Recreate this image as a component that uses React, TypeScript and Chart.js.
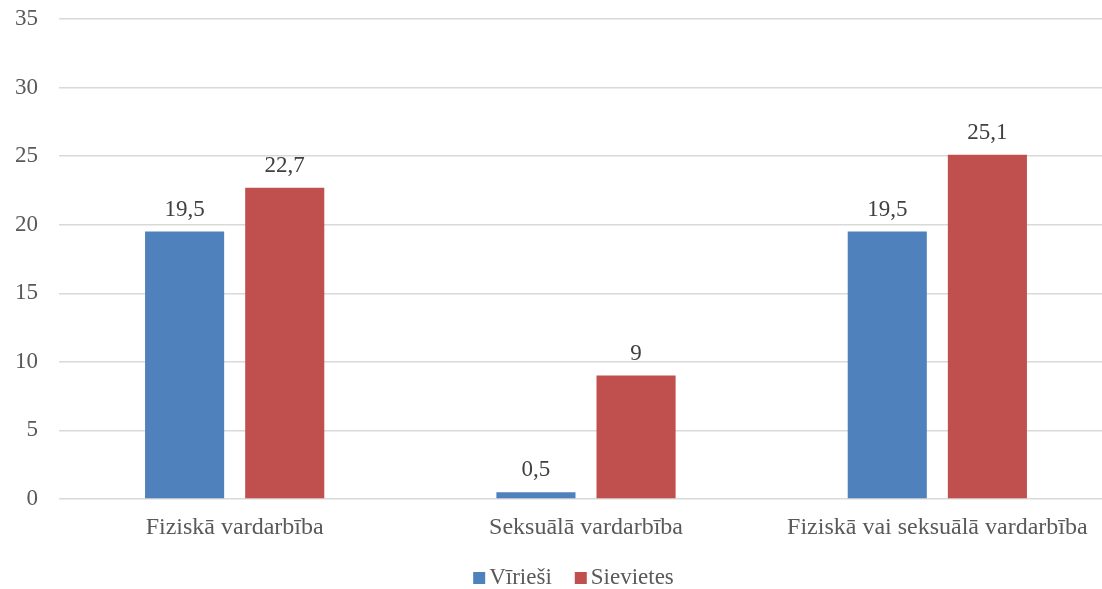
import React, { useEffect, useRef } from "react";
import { Chart, registerables } from "chart.js";

Chart.register(...registerables);

const categories = ["Fiziskā vardarbība", "Seksuālā vardarbība", "Fiziskā vai seksuālā vardarbība"];
const seriesNames = ["Vīrieši", "Sievietes"];
const men = [19.5, 0.5, 19.5];
const women = [22.7, 9, 25.1];
const yTicks = [0, 5, 10, 15, 20, 25, 30, 35];

const FONT = "'Liberation Serif', 'Times New Roman', serif";

const labelPlugin = {
  id: "valueLabels",
  afterDatasetsDraw(chart: any) {
    const ctx = chart.ctx;
    ctx.save();
    ctx.font = `23px ${FONT}`;
    ctx.fillStyle = "#404040";
    ctx.textAlign = "center";
    ctx.textBaseline = "alphabetic";
    chart.data.datasets.forEach((ds: any, di: number) => {
      const meta = chart.getDatasetMeta(di);
      meta.data.forEach((el: any, i: number) => {
        const v = ds.data[i];
        ctx.fillText(String(v).replace(".", ","), el.x, el.y - 16);
      });
    });
    ctx.restore();
  },
};

const legendPlugin = {
  id: "customLegend",
  afterDraw(chart: any) {
    const ctx = chart.ctx;
    ctx.save();
    ctx.font = `23px ${FONT}`;
    ctx.textBaseline = "middle";
    ctx.textAlign = "left";
    const box = 12;
    const gap = 4;
    const itemGap = 23;
    const items = chart.data.datasets.map((ds: any) => ({
      text: ds.label,
      color: ds.backgroundColor,
      w: box + gap + ctx.measureText(ds.label).width,
    }));
    const total = items.reduce((s: number, it: any) => s + it.w, 0) + itemGap * (items.length - 1);
    const cy = 578;
    let x = 573.5 - total / 2;
    items.forEach((it: any) => {
      ctx.fillStyle = it.color;
      ctx.fillRect(x, cy - 6, box, box);
      ctx.fillStyle = "#595959";
      ctx.fillText(it.text, x + box + gap, cy);
      x += it.w + itemGap;
    });
    ctx.restore();
  },
};

export default function App() {
  const ref = useRef<HTMLCanvasElement | null>(null);
  useEffect(() => {
    if (!ref.current) return;
    const chart = new Chart(ref.current, {
      type: "bar",
      data: {
        labels: categories,
        datasets: [
          { label: seriesNames[0], data: men, backgroundColor: "#4F81BD", categoryPercentage: 0.57, barPercentage: 0.79 },
          { label: seriesNames[1], data: women, backgroundColor: "#C0504D", categoryPercentage: 0.57, barPercentage: 0.79 },
        ],
      },
      options: {
        responsive: false,
        animation: false,
        layout: { padding: { top: 19, right: 1, left: 0, bottom: 50 } },
        plugins: {
          legend: { display: false },
          tooltip: { enabled: false },
        },
        scales: {
          x: {
            afterFit(axis: any) {
              axis.height = 40;
              axis.paddingLeft = 0;
              axis.paddingRight = 0;
            },
            grid: { display: false },
            border: { display: false },
            ticks: { font: { family: FONT, size: 24 }, color: "#595959", maxRotation: 0, autoSkip: false, padding: 6 },
          },
          y: {
            min: 0,
            max: 35,
            afterBuildTicks(axis: any) {
              axis.ticks = yTicks.map((v) => ({ value: v }));
            },
            afterFit(axis: any) {
              axis.width = 59;
              axis.paddingTop = 0;
              axis.paddingBottom = 0;
            },
            grid: { color: "#d9d9d9", lineWidth: 1.5, drawTicks: false },
            border: { display: false },
            ticks: { font: { family: FONT, size: 23 }, color: "#595959", padding: 21 },
          },
        },
      },
      plugins: [labelPlugin, legendPlugin],
    });
    return () => chart.destroy();
  }, []);
  return (
    <div style={{ position: "fixed", left: 0, top: 0, width: 1102, height: 589, overflow: "hidden", background: "#fff" }}>
      <canvas ref={ref} width={1114} height={589} style={{ display: "block" }} />
    </div>
  );
}
